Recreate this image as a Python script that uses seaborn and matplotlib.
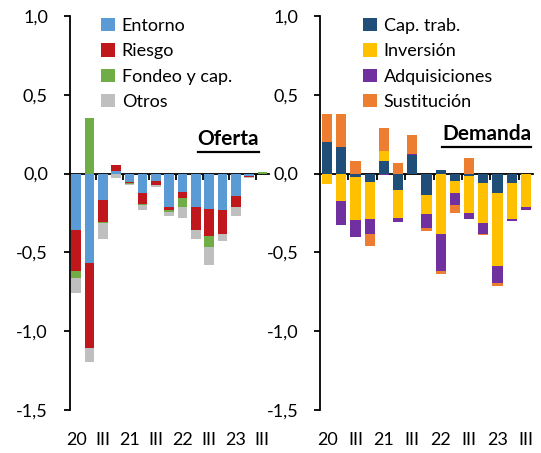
import numpy as np
import pandas as pd
import matplotlib
matplotlib.use("Agg")
import matplotlib.pyplot as plt
import seaborn as sns
from matplotlib.patches import Patch
from matplotlib.lines import Line2D

# Quarters 2020 T1 .. 2023 T3
quarters = ["2020T1", "2020T2", "2020T3", "2020T4",
            "2021T1", "2021T2", "2021T3", "2021T4",
            "2022T1", "2022T2", "2022T3", "2022T4",
            "2023T1", "2023T2", "2023T3"]
tick_labels = ["20", "III", "21", "III", "22", "III", "23", "III"]

# Supply-side factors
entorno = [-0.36, -0.565, -0.17, 0.015, -0.055, -0.125, -0.05, -0.215,
           -0.115, -0.215, -0.227, -0.23, -0.142, -0.013, 0.0]
riesgo = [-0.255, -0.54, -0.135, 0.04, -0.005, -0.07, -0.025, -0.018,
          -0.04, -0.145, -0.167, -0.152, -0.068, -0.01, 0.0]
fondeo = [-0.05, 0.35, -0.01, -0.005, -0.005, -0.007, 0.0, -0.013,
          -0.057, 0.0, -0.072, 0.0, 0.0, 0.0, 0.008]
otros = [-0.09, -0.09, -0.10, -0.02, -0.01, -0.03, -0.012, -0.023,
         -0.072, -0.055, -0.112, -0.045, -0.06, -0.008, 0.0]

# Demand-side factors
cap_trab = [0.20, 0.17, -0.02, -0.053, 0.078, -0.106, 0.116, -0.136,
            0.02, -0.045, -0.013, -0.061, -0.123, -0.061, -0.005]
inversion = [-0.065, -0.175, -0.277, -0.233, 0.066, -0.178, 0.0, -0.122,
             -0.383, -0.08, -0.24, -0.254, -0.466, -0.229, -0.21]
adquisiciones = [0.0, -0.15, -0.103, -0.097, -0.012, -0.025, 0.01, -0.089,
                 -0.237, -0.072, -0.032, -0.07, -0.108, -0.013, -0.013]
sustitucion = [0.175, 0.205, 0.08, -0.074, 0.145, 0.07, 0.118, -0.015,
               -0.017, -0.053, 0.10, -0.005, -0.019, 0.0, 0.0]

oferta_names = ["Entorno", "Riesgo", "Fondeo y cap.", "Otros"]
oferta_colors = ["#5B9BD5", "#C0171C", "#70AD47", "#BFBFBF"]
demanda_names = ["Cap. trab.", "Inversión", "Adquisiciones", "Sustitución"]
demanda_colors = ["#1F4E79", "#FFC000", "#7030A0", "#ED7D31"]

FONT = ["Lato", "DejaVu Sans"]
plt.rcParams["font.family"] = FONT
plt.rcParams["font.size"] = 13

W, H = 541, 453
fig = plt.figure(figsize=(W / 100, H / 100), dpi=100)
ax1 = fig.add_axes([69.5 / W, 1 - 410 / H, 199.5 / W, 394 / H])
ax2 = fig.add_axes([320 / W, 1 - 410 / H, 213 / W, 394 / H])


def stacked_bars(ax, layers, colors, width):
    vals = np.array(layers, dtype=float)
    pos = np.clip(vals, 0, None).cumsum(axis=0)
    neg = np.clip(vals, None, 0).cumsum(axis=0)
    for cum in (pos, neg):
        # outermost segment first, inner ones painted over it
        for k in range(len(layers) - 1, -1, -1):
            df = pd.DataFrame({"trimestre": quarters, "valor": cum[k]})
            sns.barplot(data=df, x="trimestre", y="valor", color=colors[k],
                        saturation=1, width=width, errorbar=None,
                        linewidth=0, ax=ax)


def style_axis(ax, title, title_xy, legend_names, legend_colors, legend_xy):
    ax.set_ylim(-1.5, 1.0)
    ax.set_xlim(-0.5, len(quarters) - 0.5)
    ax.set_xlabel("")
    ax.set_ylabel("")
    for s in ("top", "right", "bottom"):
        ax.spines[s].set_visible(False)
    ax.spines["left"].set_linewidth(1.3)
    yt = [-1.5, -1.0, -0.5, 0.0, 0.5, 1.0]
    ax.set_yticks(yt)
    ax.set_yticklabels([f"{v:.1f}".replace(".", ",") for v in yt])
    ax.tick_params(axis="y", direction="out", length=4.5, width=1.3,
                   pad=11, labelsize=13)
    ax.set_xticks(range(0, len(quarters), 2))
    ax.set_xticklabels(tick_labels)
    ax.tick_params(axis="x", length=0, pad=16, labelsize=13)

    # category axis drawn through zero with tick marks every two quarters
    sec = ax.secondary_xaxis(1.5 / 2.5)
    sec.set_xticks(np.arange(1.5, len(quarters) - 1, 2))
    sec.xaxis.set_ticks_position("bottom")
    sec.spines["top"].set_visible(False)
    sec.spines["bottom"].set_visible(True)
    sec.spines["bottom"].set_linewidth(1.3)
    sec.tick_params(axis="x", direction="out", length=4.5, width=1.3,
                    labelbottom=False, labeltop=False)

    handles = [Patch(facecolor=c, edgecolor="none") for c in legend_colors]
    ax.legend(handles, legend_names, loc="upper left",
              bbox_to_anchor=(legend_xy[0] / W, 1 - legend_xy[1] / H),
              bbox_transform=fig.transFigure, frameon=False, fontsize=13,
              borderpad=0, borderaxespad=0, handlelength=0.75,
              handleheight=0.75, handletextpad=0.4, labelspacing=0.52)

    t = fig.text(title_xy[0] / W, 1 - title_xy[1] / H, title,
                 ha="right", va="baseline", fontsize=15, fontweight="bold")
    fig.canvas.draw()
    bb = t.get_window_extent().transformed(fig.transFigure.inverted())
    y_line = bb.y0 - 3 / H
    fig.add_artist(Line2D([bb.x0, bb.x1], [y_line, y_line],
                          transform=fig.transFigure, color="black", lw=1.6))


stacked_bars(ax1, [entorno, riesgo, fondeo, otros], oferta_colors, 0.72)
stacked_bars(ax2, [cap_trab, inversion, adquisiciones, sustitucion],
             demanda_colors, 0.72)

style_axis(ax1, "Oferta", (259, 145), oferta_names, oferta_colors, (101, 18))
style_axis(ax2, "Demanda", (531, 140), demanda_names, demanda_colors, (363, 18))

fig.savefig("out.png", dpi=100)
